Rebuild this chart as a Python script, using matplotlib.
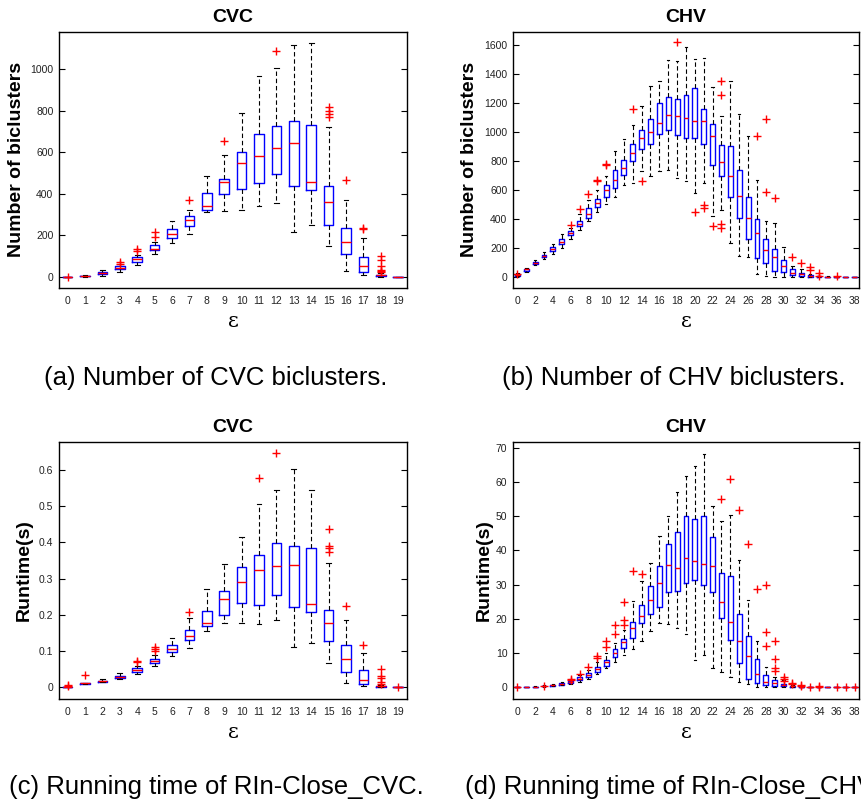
import matplotlib
matplotlib.use('Agg')
import matplotlib.pyplot as plt
from matplotlib.ticker import FuncFormatter

plt.rcParams['font.family'] = ['Liberation Sans', 'DejaVu Sans']

# (a) number of CVC biclusters, eps = 0..19
med_a = [0, 2, 15, 42, 83, 135, 205, 272, 342, 458, 546, 580, 620, 642, 455, 358, 168, 50, 5, 0]
q1_a = [0, 1, 10, 35, 72, 128, 185, 245, 320, 398, 420, 453, 495, 435, 415, 250, 108, 22, 2, 0]
q3_a = [0, 4, 20, 50, 92, 152, 228, 290, 402, 472, 600, 688, 727, 750, 730, 438, 235, 95, 8, 0]
lo_a = [0, 0, 3, 22, 55, 108, 162, 207, 310, 315, 322, 340, 355, 215, 248, 145, 27, 8, 0, 0]
hi_a = [0, 8, 30, 60, 105, 165, 270, 322, 483, 585, 790, 968, 1008, 1115, 1125, 720, 368, 188, 15, 0]
fl_a = [[0], [], [], [70, 62], [135, 125], [215, 190], [], [370], [], [655], [], [], [1090], [], [],
        [820, 800, 785, 770], [465], [235, 228], [100, 80, 50, 30, 25, 20], []]

# (b) number of CHV biclusters, eps = 0..38
med_b = [15, 52, 100, 145, 192, 245, 302, 368, 438, 512, 597, 672, 755, 855, 958, 1000, 1060, 1115, 1108,
         1095, 1075, 1075, 972, 795, 700, 562, 408, 302, 185, 138, 78, 30, 18, 8, 4, 1, 0, 0, 0]
q1_b = [8, 45, 93, 135, 180, 228, 288, 352, 410, 485, 550, 612, 705, 798, 880, 920, 985, 1015, 978,
        962, 962, 915, 770, 700, 555, 405, 262, 130, 98, 40, 32, 15, 8, 3, 1, 0, 0, 0, 0]
q3_b = [20, 58, 106, 155, 205, 262, 318, 385, 475, 540, 632, 740, 810, 915, 1015, 1088, 1198, 1238, 1230,
        1258, 1300, 1158, 1055, 908, 905, 740, 555, 398, 265, 195, 115, 52, 28, 12, 6, 2, 0, 0, 0]
lo_b = [5, 38, 85, 122, 160, 200, 260, 325, 388, 450, 505, 555, 632, 650, 730, 695, 728, 738, 680,
        665, 582, 650, 420, 460, 235, 145, 135, 20, 10, 2, 0, 0, 0, 0, 0, 0, 0, 0, 0]
hi_b = [25, 65, 118, 172, 225, 298, 340, 432, 530, 600, 700, 870, 950, 1050, 1178, 1315, 1350, 1495, 1490,
        1585, 1500, 1508, 1312, 1108, 1355, 1122, 972, 668, 385, 375, 205, 75, 55, 22, 10, 4, 0, 0, 0]
fl_b = [[20], [], [], [], [], [], [358], [468], [570], [670, 665], [780, 770], [], [], [1158], [660], [], [], [],
        [1618], [], [445], [495, 475], [352], [1352, 1258, 368, 335], [], [], [], [972], [1088, 585], [545],
        [], [138], [100], [68, 48], [30, 10], [], [5], [], []]

# (c) running time of RIn-Close_CVC
med_c = [0, 0.010, 0.017, 0.028, 0.047, 0.072, 0.104, 0.142, 0.176, 0.244, 0.290, 0.323, 0.334, 0.337,
         0.229, 0.176, 0.078, 0.020, 0.002, 0]
q1_c = [0, 0.009, 0.015, 0.025, 0.042, 0.066, 0.097, 0.130, 0.169, 0.198, 0.231, 0.228, 0.255, 0.222,
        0.207, 0.128, 0.043, 0.009, 0.001, 0]
q3_c = [0.001, 0.011, 0.018, 0.031, 0.053, 0.078, 0.115, 0.158, 0.211, 0.266, 0.332, 0.364, 0.399, 0.389,
        0.384, 0.212, 0.115, 0.046, 0.003, 0]
lo_c = [0, 0.008, 0.013, 0.022, 0.037, 0.058, 0.086, 0.108, 0.155, 0.176, 0.176, 0.174, 0.185, 0.110,
        0.123, 0.066, 0.011, 0.002, 0, 0]
hi_c = [0.002, 0.012, 0.022, 0.040, 0.057, 0.090, 0.136, 0.192, 0.270, 0.340, 0.415, 0.505, 0.545, 0.602,
        0.545, 0.342, 0.186, 0.095, 0.006, 0]
fl_c = [[0.006, 0.002], [0.033], [], [], [0.072, 0.068], [0.112, 0.106, 0.100], [], [0.208], [], [], [],
        [0.577], [0.648], [], [], [0.436, 0.390, 0.383, 0.374], [0.225], [0.116],
        [0.051, 0.030, 0.025, 0.014, 0.008], [0]]

# (d) running time of RIn-Close_CHV
med_d = [0, 0, 0.1, 0.3, 0.5, 0.9, 1.5, 2.5, 3.6, 5.3, 7.3, 9.9, 13.2, 17.3, 20.8, 25.6, 30.4, 35.6, 34.9,
         37.9, 37.0, 36.1, 35.5, 24.8, 18.9, 13.5, 9.1, 3.9, 1.5, 1.1, 0.6, 0.2, 0.05, 0, 0, 0, 0, 0, 0]
q1_d = [0, 0, 0.05, 0.2, 0.4, 0.75, 1.2, 2.1, 3.0, 4.5, 6.2, 8.8, 11.5, 14.4, 18.8, 21.4, 23.5, 27.8, 28.2,
        30.5, 31.4, 29.9, 27.8, 20.1, 13.9, 6.9, 2.4, 1.2, 0.7, 0.4, 0.2, 0.05, 0, 0, 0, 0, 0, 0, 0]
q3_d = [0, 0, 0.15, 0.4, 0.6, 1.1, 1.9, 2.9, 4.2, 6.0, 7.9, 11.2, 14.2, 19.0, 24.0, 29.5, 35.3, 42.0, 45.3,
        50.1, 49.2, 50.2, 43.9, 33.4, 32.5, 21.4, 14.9, 8.3, 3.4, 2.0, 1.0, 0.35, 0.1, 0, 0, 0, 0, 0, 0]
lo_d = [0, 0, 0, 0.1, 0.3, 0.6, 0.9, 1.6, 2.5, 3.8, 5.6, 7.3, 9.5, 11.0, 13.4, 16.5, 18.8, 18.4, 17.3,
        15.5, 7.8, 9.3, 5.6, 4.4, 2.9, 1.4, 0.9, 0.1, 0, 0, 0, 0, 0, 0, 0, 0, 0, 0, 0]
hi_d = [0, 0, 0.2, 0.5, 0.9, 1.4, 2.3, 3.5, 5.1, 7.2, 10.0, 13.0, 16.8, 25.2, 30.9, 36.3, 44.3, 50.1, 57.1,
        61.9, 64.8, 68.3, 52.9, 48.6, 50.4, 37.3, 25.5, 13.5, 6.0, 3.0, 2.0, 0.7, 0.2, 0, 0, 0, 0, 0, 0]
fl_d = [[0], [], [], [0.4], [], [], [2.5, 2.0], [3.9], [6.0], [9.0, 8.6], [13.6, 11.8], [18.1, 15.6],
        [24.8, 19.7, 18.2], [34.0], [33.0], [], [], [], [], [], [], [], [], [54.9], [60.8], [51.8], [41.8],
        [28.8], [29.9, 16.0, 12.1], [13.5, 8.1, 5.5, 4.8], [2.9, 2.3, 1.8], [1.2, 0.9], [0.5, 0.3], [0.1],
        [0.1, 0.2], [], [0], [0], [0]]


def box_stats(med, q1, q3, lo, hi, fl):
    return [dict(med=m, q1=a, q3=b, whislo=l, whishi=h, fliers=f)
            for m, a, b, l, h, f in zip(med, q1, q3, lo, hi, fl)]


def draw(ax, stats, title, ylabel, ylim, yticks, xstep, labelx):
    n = len(stats)
    ax.bxp(stats, positions=range(n), widths=0.55,
           boxprops=dict(color='blue', lw=1.0),
           medianprops=dict(color='red', lw=1.0),
           whiskerprops=dict(color='black', lw=0.8, linestyle=(0, (4, 2.5))),
           capprops=dict(color='black', lw=0.8),
           flierprops=dict(marker='+', markeredgecolor='red', markersize=5.5, mew=1.0))
    ax.set_xlim(-0.5, n - 0.5)
    ax.set_ylim(*ylim)
    ax.set_xticks(range(0, n, xstep))
    ax.set_xticklabels([str(i) for i in range(0, n, xstep)])
    ax.set_yticks(yticks)
    ax.yaxis.set_major_formatter(FuncFormatter(lambda v, p: '%g' % round(v, 6)))
    ax.tick_params(axis='y', direction='in', length=4, width=0.8, left=True, right=True,
                   labelsize=7.5, labelcolor='#222222', pad=4)
    ax.tick_params(axis='x', length=0, labelsize=7.5, labelcolor='#222222', pad=6)
    for s in ax.spines.values():
        s.set_linewidth(1.0)
    ax.set_title(title, fontsize=14, fontweight='bold', pad=7)
    ax.set_ylabel(ylabel, fontsize=14, fontweight='bold')
    ax.yaxis.set_label_coords(labelx, 0.5)
    ax.set_xlabel('ε', fontsize=15, family='DejaVu Serif', labelpad=4)


fig = plt.figure(figsize=(8.62, 8.02), dpi=100)
ax_a = fig.add_axes([0.0684, 0.641, 0.4037, 0.3192])
ax_b = fig.add_axes([0.5951, 0.641, 0.4014, 0.3192])
ax_c = fig.add_axes([0.0684, 0.1284, 0.4037, 0.3204])
ax_d = fig.add_axes([0.5951, 0.1284, 0.4014, 0.3204])

draw(ax_a, box_stats(med_a, q1_a, q3_a, lo_a, hi_a, fl_a), 'CVC', 'Number of biclusters',
     (-55, 1180), range(0, 1001, 200), 1, -0.098)
draw(ax_b, box_stats(med_b, q1_b, q3_b, lo_b, hi_b, fl_b), 'CHV', 'Number of biclusters',
     (-75, 1690), range(0, 1601, 200), 2, -0.101)
draw(ax_c, box_stats(med_c, q1_c, q3_c, lo_c, hi_c, fl_c), 'CVC', 'Runtime(s)',
     (-0.033, 0.677), [i / 10 for i in range(7)], 1, -0.075)
draw(ax_d, box_stats(med_d, q1_d, q3_d, lo_d, hi_d, fl_d), 'CHV', 'Runtime(s)',
     (-3.5, 71.7), range(0, 71, 10), 2, -0.058)

cap = dict(fontsize=18.5, ha='center', va='center')
fig.text(216 / 862, 1 - 378 / 802, '(a) Number of CVC biclusters.', **cap)
fig.text(674 / 862, 1 - 378 / 802, '(b) Number of CHV biclusters.', **cap)
fig.text(216 / 862, 1 - 787 / 802, '(c) Running time of RIn-Close_CVC.', **cap)
fig.text(672 / 862, 1 - 787 / 802, '(d) Running time of RIn-Close_CHV.', **cap)

fig.savefig('out.png', dpi=100)
